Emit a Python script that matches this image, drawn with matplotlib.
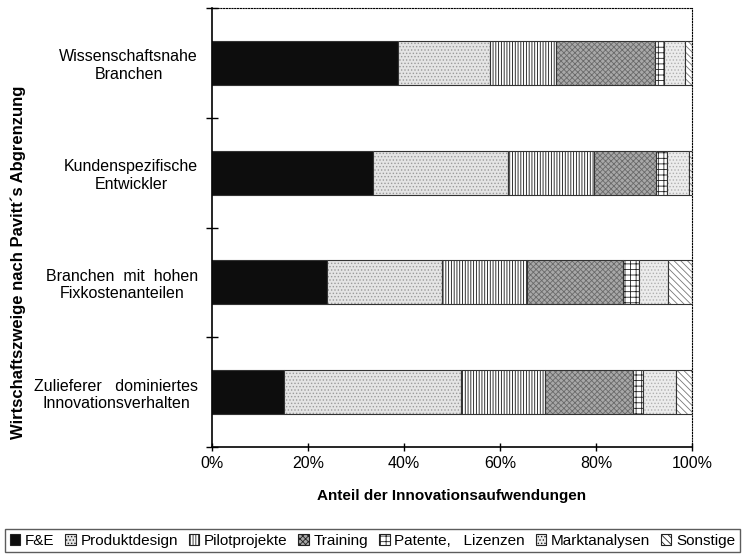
import numpy as np
import matplotlib.pyplot as plt
from matplotlib.patches import Patch

plt.rcParams['font.family'] = ['Liberation Sans', 'DejaVu Sans']
plt.rcParams['hatch.linewidth'] = 0.6

categories = [
    "Wissenschaftsnahe\nBranchen",
    "Kundenspezifische\nEntwickler",
    "Branchen  mit  hohen\nFixkostenanteilen",
    "Zulieferer   dominiertes\nInnovationsverhalten",
]
series = ["F&E", "Produktdesign", "Pilotprojekte", "Training",
          "Patente,   Lizenzen", "Marktanalysen", "Sonstige"]

fue = [38.8, 33.5, 24.0, 15.0]
produktdesign = [19.1, 28.2, 23.9, 36.9]
pilotprojekte = [13.7, 17.9, 17.7, 17.5]
training = [20.7, 12.9, 20.0, 18.3]
patente = [1.9, 2.3, 3.4, 2.1]
marktanalysen = [4.3, 4.6, 6.0, 6.9]
sonstige = [1.5, 0.6, 5.0, 3.3]

values = [fue, produktdesign, pilotprojekte, training, patente, marktanalysen, sonstige]
facecolors = ["#0d0d0d", "#e4e4e4", "white", "#a8a8a8", "white", "#ececec", "white"]
hatches = [None, ".....", "||||||", "xxxxxx", "+++", ".....", "\\\\\\\\\\"]
hatchcolors = ["#0d0d0d", "#9a9a9a", "#111111", "#6a6a6a", "#222222", "#b0b0b0", "#777777"]

fig = plt.figure(figsize=(7.42, 5.54), dpi=100)
ax = fig.add_axes([212 / 742, 1 - 447 / 554, 480 / 742, 439 / 554])

y = np.arange(len(categories))
left = np.zeros(len(categories))
for name, vals, fc, h, hc in zip(series, values, facecolors, hatches, hatchcolors):
    vals = np.array(vals)
    ax.barh(y, vals, left=left, height=0.4, color=fc, edgecolor=hc,
            hatch=h, linewidth=0)
    # outline drawn separately so hatch keeps its own colour
    ax.barh(y, vals, left=left, height=0.4, color="none", edgecolor="#333333",
            linewidth=0.8)
    left += vals

ax.set_xlim(0, 100)
ax.set_ylim(3.5, -0.5)
ax.set_yticks(y)
ax.set_yticklabels(categories, fontsize=11.5, multialignment="center")
ax.set_yticks(np.arange(-0.5, 4.0, 1.0), minor=True)
ax.tick_params(axis="y", which="major", length=0, pad=10)
ax.tick_params(axis="y", which="minor", length=8, direction="inout", width=1)
ax.set_xticks(np.arange(0, 101, 20))
ax.set_xticklabels([f"{v}%" for v in range(0, 101, 20)], fontsize=11.5)
ax.tick_params(axis="x", length=6, direction="inout", width=1)

for s in ["top", "right"]:
    ax.spines[s].set_linestyle((0, (1, 1.5)))
    ax.spines[s].set_linewidth(0.8)
ax.spines["left"].set_linewidth(1.2)
ax.spines["bottom"].set_linewidth(1.2)

ax.set_xlabel("Anteil der Innovationsaufwendungen", fontsize=11, fontweight="bold", labelpad=13)
fig.text(18 / 742, 1 - 262 / 554, "Wirtschaftszweige nach Pavitt´s Abgrenzung",
         rotation=90, ha="center", va="center", fontsize=12, fontweight="bold")

handles = [Patch(facecolor=fc, hatch=h, edgecolor="#222222", linewidth=0.8)
           for fc, h in zip(facecolors, hatches)]
leg = fig.legend(handles=handles, labels=series, loc="lower center",
                 bbox_to_anchor=(0.502, 0.0), ncol=7, fontsize=11, frameon=True,
                 fancybox=False, edgecolor="#333333", handlelength=0.7, handleheight=0.7,
                 handletextpad=0.3, columnspacing=0.7, borderpad=0.3, borderaxespad=0.1)

fig.savefig("out.png", dpi=100)
